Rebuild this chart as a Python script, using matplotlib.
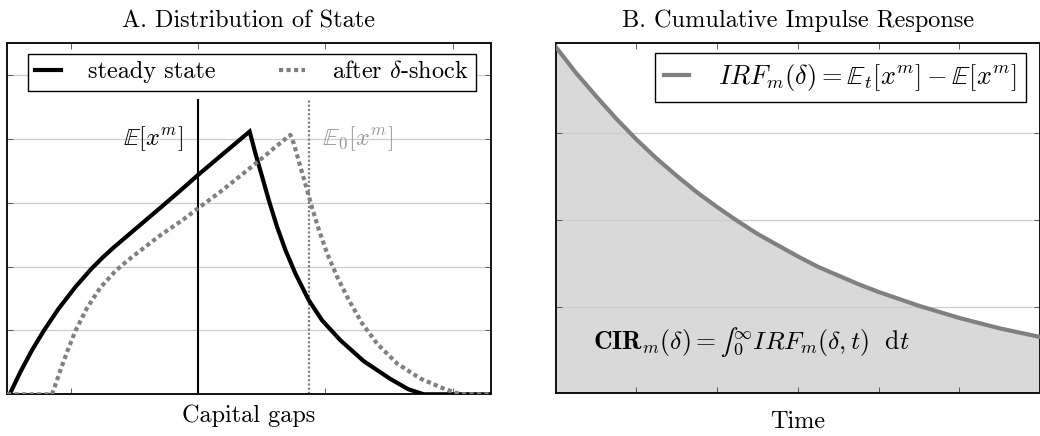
import matplotlib
matplotlib.use("Agg")
import matplotlib.pyplot as plt
import numpy as np

plt.rcParams['font.family'] = ['cmr10', 'DejaVu Serif']
plt.rcParams['mathtext.fontset'] = 'cm'
plt.rcParams['axes.formatter.use_mathtext'] = True

# ---------------- data ----------------
# Panel A: steady state distribution
ss_x = [-1.5, -1.479, -1.395, -1.304, -1.212, -1.094, -0.963, -0.840, -0.750,
        -0.662, -0.479, -0.296, -0.139, 0.0, 0.202, 0.405,
        0.45, 0.503, 0.555, 0.62, 0.686, 0.764, 0.869, 0.973, 1.117, 1.30,
        1.51, 1.65, 1.772, 2.3]
ss_y = [0.0, 0.0, 0.35, 0.69, 0.993, 1.343, 1.68, 1.96, 2.14,
        2.30, 2.61, 2.92, 3.19, 3.434, 3.774, 4.114,
        3.774, 3.408, 3.042, 2.624, 2.258, 1.892, 1.474, 1.16, 0.847, 0.52,
        0.24, 0.08, 0.0, 0.0]
# Panel A: after delta-shock distribution
sh_x = [-1.5, -1.147, -1.126, -1.081, -1.029, -0.963, -0.872, -0.767, -0.649,
        -0.55, -0.479, -0.296, -0.113, 0.0, 0.175, 0.332, 0.463, 0.594, 0.725,
        0.751, 0.803, 0.856, 0.895, 0.948, 1.013, 1.092, 1.184, 1.289, 1.405,
        1.563, 1.746, 1.929, 2.06, 2.3]
sh_y = [0.0, 0.0, 0.115, 0.376, 0.66, 0.993, 1.35, 1.67, 1.93,
        2.10, 2.21, 2.49, 2.74, 2.912, 3.17, 3.42, 3.63, 3.85, 4.062,
        3.93, 3.565, 3.199, 2.92, 2.58, 2.206, 1.84, 1.474, 1.108, 0.795,
        0.481, 0.246, 0.089, 0.0, 0.0]
mean_ss = 0.0
mean_sh = 0.874
mean_line_top = 4.62
xticksA = [-1, 0, 1, 2]
yticksA = [1, 2, 3, 4, 5]

# Panel B: impulse response
t_vals = [0.0, 0.25, 0.5, 0.75, 1.0, 1.25, 1.5, 1.75, 2.0, 2.25, 2.5, 2.75, 3.0,
          3.25, 3.5, 3.75, 4.0, 4.25, 4.5, 4.75, 5.0, 5.25, 5.5, 5.75, 6.0]
irf_vals = [4.00, 3.70, 3.43, 3.17, 2.93, 2.71, 2.51, 2.32, 2.15, 1.99, 1.84, 1.71, 1.58,
            1.46, 1.36, 1.26, 1.17, 1.09, 1.01, 0.94, 0.87, 0.81, 0.75, 0.70, 0.65]
xticksB = [1, 2, 3, 4, 5]
yticksB = [1, 2, 3]

GRAY = '#808080'
FS = 17.5

fig = plt.figure(figsize=(10.4, 4.36), dpi=100)
axA = fig.add_axes([7/1040, (436-394.3)/436, 484/1040, 351.3/436])
axB = fig.add_axes([555.7/1040, (436-393.3)/436, (1040-555.7)/1040, 350/436])

def style(ax):
    for s in ax.spines.values():
        s.set_linewidth(1.4)
        s.set_color('#111111')
    ax.tick_params(direction='in', length=4, width=0.6, color='#444444',
                   top=True, right=True, labelbottom=False, labelleft=False)
    ax.yaxis.grid(True, color='#cccccc', linewidth=0.9)
    ax.set_axisbelow(True)

# ---------------- Panel A ----------------
style(axA)
axA.set_xlim(-1.5, 2.3)
axA.set_ylim(0, 5.5)
axA.set_xticks(xticksA)
axA.set_yticks(yticksA)
axA.plot(ss_x, ss_y, color='black', lw=3.0, label='steady state', zorder=3,
         solid_joinstyle='miter')
axA.plot(sh_x, sh_y, color=GRAY, lw=3.0, linestyle=(0, (1, 0.8)),
         label=r'after $\delta$-shock', zorder=3, dash_capstyle='butt')
axA.vlines(mean_ss, 0, mean_line_top, color='black', lw=1.5, zorder=2)
axA.vlines(mean_sh, 0, mean_line_top, color=GRAY, lw=1.6,
           linestyle=(0, (1, 0.9)), zorder=2)
axA.text(mean_ss - 0.115, 4.0, r'$\mathbb{E}[x^m]$', ha='right', va='center',
         fontsize=FS, color='black')
axA.text(mean_sh + 0.1, 4.0, r'$\mathbb{E}_0[x^m]$', ha='left', va='center',
         fontsize=FS, color='#999999')
legA = axA.legend(loc='upper left', bbox_to_anchor=(21/484, 1 - 11/351.3),
                  borderaxespad=0, ncol=2, fontsize=FS, frameon=True,
                  fancybox=False, framealpha=1, edgecolor='black',
                  handlelength=1.07, handletextpad=1.1, columnspacing=2.62,
                  borderpad=0.3)
legA.get_frame().set_linewidth(1.0)
legA.set_zorder(5)
axA.set_title('A. Distribution of State', fontsize=FS, pad=11.5)
axA.set_xlabel('Capital gaps', fontsize=FS, labelpad=7)

# ---------------- Panel B ----------------
style(axB)
axB.set_xlim(0, 6)
axB.set_ylim(0, 4.04)
axB.set_xticks(xticksB)
axB.set_yticks(yticksB)
axB.fill_between(t_vals, 0, irf_vals, color='#d9d9d9', zorder=0.2, lw=0)
axB.plot(t_vals, irf_vals, color=GRAY, lw=3.0,
         label=r'$IRF_m(\delta) = \mathbb{E}_t[x^m] - \mathbb{E}[x^m]$', zorder=3)
axB.text(0.46, 0.595, r'$\mathbf{CIR}_m(\delta) = ∫_0^\infty IRF_m(\delta,t)\ \ \mathrm{d}t$',
         ha='left', va='center', fontsize=FS + 1)
legB = axB.legend(loc='upper right', bbox_to_anchor=(470/484.3, 1 - 10/350),
                  borderaxespad=0, fontsize=FS + 1.5, frameon=True,
                  fancybox=False, framealpha=1, edgecolor='black',
                  handlelength=0.95, handletextpad=1.1, borderpad=0.33)
legB.get_frame().set_linewidth(1.0)
axB.set_title('B. Cumulative Impulse Response', fontsize=FS, pad=11.5)
axB.set_xlabel('Time', fontsize=FS, labelpad=13)

fig.savefig('out.png', dpi=100)
